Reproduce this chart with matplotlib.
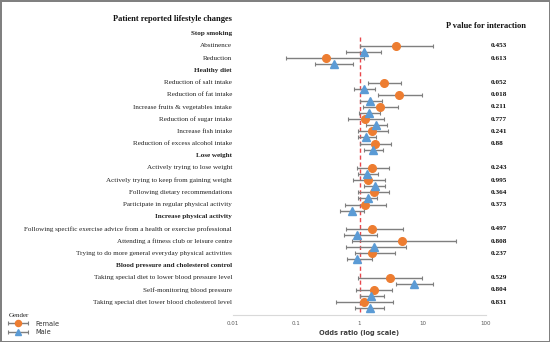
import numpy as np
import matplotlib.pyplot as plt
from matplotlib.transforms import blended_transform_factory
from matplotlib.container import ErrorbarContainer
from matplotlib.legend_handler import HandlerErrorbar

# rows of the table (headers in bold)
rows = ['Stop smoking', 'Abstinence', 'Reduction',
        'Healthy diet', 'Reduction of salt intake', 'Reduction of fat intake',
        'Increase fruits & vegetables intake', 'Reduction of sugar intake',
        'Increase fish intake', 'Reduction of excess alcohol intake',
        'Lose weight', 'Actively trying to lose weight',
        'Actively trying to keep from gaining weight',
        'Following dietary recommendations',
        'Participate in regular physical activity',
        'Increase physical activity',
        'Following specific exercise advice from a health or exercise professional',
        'Attending a fitness club or leisure centre',
        'Trying to do more general everyday physical activities',
        'Blood pressure and cholesterol control',
        'Taking special diet to lower blood pressure level',
        'Self-monitoring blood pressure',
        'Taking special diet lower blood cholesterol level']
headers = ['Stop smoking', 'Healthy diet', 'Lose weight',
           'Increase physical activity', 'Blood pressure and cholesterol control']

female_or = [3.82, 0.30, 2.44, 4.26, 2.13, 1.24, 1.59, 1.75, 1.59, 1.37, 1.67, 1.22,
             1.55, 4.75, 1.57, 3.03, 1.67, 1.17]
female_lo = [1.00, 0.070, 1.34, 1.93, 1.13, 0.67, 0.93, 1.03, 0.91, 0.79, 0.93, 0.58,
             0.62, 0.77, 0.86, 0.94, 0.88, 0.42]
female_hi = [14.4, 1.17, 4.58, 9.6, 4.0, 2.4, 2.78, 3.1, 2.88, 2.49, 2.92, 2.58,
             4.87, 34.0, 3.59, 9.6, 3.3, 3.33]
male_or = [1.16, 0.39, 1.17, 1.49, 1.43, 1.84, 1.28, 1.63, 1.31, 1.73, 1.34, 0.77,
           0.92, 1.67, 0.91, 7.2, 1.52, 1.44]
male_lo = [0.62, 0.20, 0.81, 1.00, 0.98, 1.28, 0.94, 1.16, 0.93, 1.19, 0.94, 0.50,
           0.57, 0.62, 0.63, 3.72, 1.00, 0.86]
male_hi = [2.21, 0.78, 1.73, 2.31, 2.13, 2.75, 1.84, 2.37, 1.93, 2.55, 1.91, 1.16,
           1.89, 5.4, 1.57, 14.4, 2.4, 2.4]
p_values = ['0.453', '0.613', '0.052', '0.018', '0.211', '0.777', '0.241', '0.88',
            '0.243', '0.995', '0.364', '0.373', '0.497', '0.808', '0.237',
            '0.529', '0.804', '0.831']

ORANGE = '#ED7D31'
BLUE = '#5B9BD5'
SERIF = 'Liberation Serif'

fig = plt.figure(figsize=(5.5, 3.42), dpi=100)
fig.patch.set_edgecolor('#808080')
fig.patch.set_linewidth(2)
ax = fig.add_axes([233 / 550, 27 / 342, 253 / 550, 305 / 342])

ypos = np.arange(len(rows)) * 1.0
item_y = np.array([ypos[i] for i, r in enumerate(rows) if r not in headers])

f = np.array(female_or)
m = np.array(male_or)
ebf = ax.errorbar(f, item_y,
                  xerr=[f - np.array(female_lo), np.array(female_hi) - f],
                  fmt='o', color=ORANGE, ms=5.5, ecolor='#7f7f7f', elinewidth=1,
                  capsize=1.5, capthick=0.8, label='Female', zorder=3)
ebm = ax.errorbar(m, item_y + 0.5,
                  xerr=[m - np.array(male_lo), np.array(male_hi) - m],
                  fmt='^', color=BLUE, ms=5.5, ecolor='#7f7f7f', elinewidth=1,
                  capsize=1.5, capthick=0.8, label='Male', zorder=3)
for eb in (ebf, ebm):
    for cap in eb[1]:
        cap.set_color('#404040')

# reference line at OR = 1
ax.axvline(1, ymin=0.01, ymax=0.91, color='#e8474c', ls=(0, (3, 2)), lw=1, zorder=1)

ax.set_xscale('log')
ax.set_xlim(0.01, 100)
ax.set_ylim(23.05, -1.95)
ax.set_yticks([])
for s in ['top', 'right', 'left']:
    ax.spines[s].set_visible(False)
ax.spines['bottom'].set_color('#d9d9d9')
ax.set_xticks([0.01, 0.1, 1, 10, 100])
ax.set_xticklabels(['0.01', '0.1', '1', '10', '100'])
ax.minorticks_off()
ax.tick_params(axis='x', length=0, labelsize=4, labelcolor='#595959', pad=4)
ax.set_xlabel('Odds ratio (log scale)', fontsize=4.8, fontweight='bold',
              color='#404040', labelpad=3)

# labels on the left
trans = blended_transform_factory(fig.transFigure, ax.transData)
for y, r in zip(ypos, rows):
    bold = r in headers
    ax.text(232 / 550, y, r, transform=trans, ha='right', va='center',
            fontsize=5.1, family=SERIF, fontweight='bold' if bold else 'normal',
            color='#222222', clip_on=False)
ax.text(232 / 550, -1.22, 'Patient reported lifestyle changes', transform=trans,
        ha='right', va='center', fontsize=6, family=SERIF, fontweight='bold',
        color='#111111', clip_on=False)

# p values on the right
ax.text(486 / 550, -0.66, 'P value for interaction', transform=trans,
        ha='center', va='center', fontsize=6, family=SERIF, fontweight='bold',
        color='#111111', clip_on=False)
for y, p in zip(item_y, p_values):
    ax.text(491 / 550, y, p, transform=trans, ha='left', va='center',
            fontsize=5.2, family=SERIF, fontweight='bold', color='#111111',
            clip_on=False)

leg = fig.legend(handles=[ebf, ebm], labels=['Female', 'Male'], title='Gender',
                 loc='lower left', bbox_to_anchor=(0.003, 0.0), frameon=False,
                 fontsize=4.8, title_fontsize=5, handlelength=3.0,
                 handletextpad=1.0, labelspacing=0.4, borderpad=0.5,
                 markerscale=0.8,
                 handler_map={ErrorbarContainer: HandlerErrorbar(xerr_size=1.5)})
leg.get_title().set_family(SERIF)
leg.get_title().set_color('#222222')
leg._legend_box.align = 'left'
for t in leg.get_texts():
    t.set_color('#333333')

fig.savefig('out.png', dpi=100, edgecolor=fig.get_edgecolor())
